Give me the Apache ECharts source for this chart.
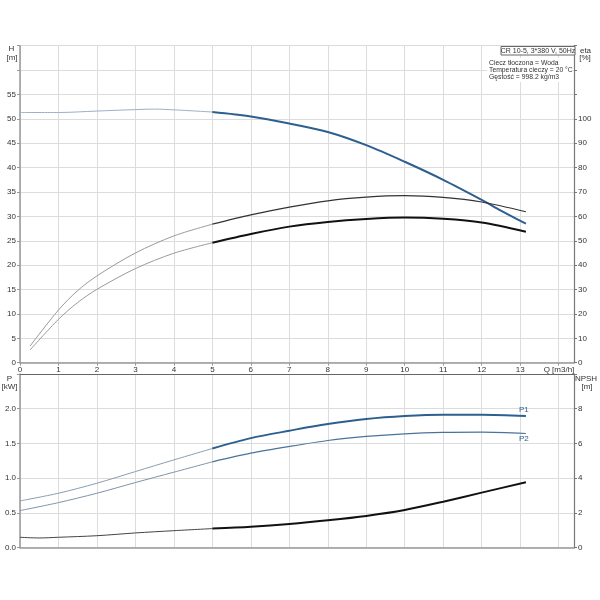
<!DOCTYPE html>
<html>
<head>
<meta charset="utf-8">
<script src="https://cdn.jsdelivr.net/npm/echarts@6/dist/echarts.min.js"></script>
<style>html,body{margin:0;padding:0;background:#fff}#c{width:600px;height:600px}</style>
</head>
<body>
<div id="c"></div>
<script>
// Head curve H [m]
const qH = [0, 1, 2, 3, 3.5, 4, 5, 6, 7, 8, 9, 10, 11, 12, 12.5, 13.15];
const hVals = [51.3, 51.3, 51.6, 51.9, 52.0, 51.85, 51.4, 50.5, 49.05, 47.3, 44.6, 41.2, 37.5, 33.4, 31.2, 28.5];
// Efficiency curves eta [%]
const qEta = [0.26, 1, 1.5, 2, 3, 4, 5, 6, 7, 8, 9, 10, 11, 12, 13.15];
const etaUpper = [6.8, 21.6, 29.6, 35.6, 45.0, 52.0, 56.8, 60.6, 63.8, 66.4, 67.9, 68.5, 67.8, 65.9, 61.9];
const etaLower = [5.2, 17.8, 24.7, 30.1, 38.6, 44.9, 49.2, 52.8, 55.8, 57.7, 58.9, 59.5, 59.0, 57.5, 53.7];
// Power curves P [kW]
const qP = [0, 1, 2, 3, 4, 5, 6, 7, 8, 9, 10, 11, 12, 13.15];
const p1Vals = [0.673, 0.784, 0.928, 1.096, 1.264, 1.428, 1.577, 1.683, 1.779, 1.851, 1.894, 1.913, 1.913, 1.894];
const p2Vals = [0.534, 0.649, 0.784, 0.938, 1.087, 1.236, 1.36, 1.457, 1.543, 1.601, 1.639, 1.659, 1.663, 1.644];
// NPSH [m]
const qN = [0, 0.5, 1, 2, 3, 4, 5, 6, 7, 8, 9, 10, 11, 12, 13.15];
const npshVals = [0.6, 0.56, 0.6, 0.69, 0.85, 0.98, 1.1, 1.21, 1.37, 1.58, 1.83, 2.17, 2.65, 3.17, 3.77];
// Ticks / texts
const qTickLabels = [0,1,2,3,4,5,6,7,8,9,10,11,12,13];
const infoTitle = 'CR 10-5, 3*380 V, 50Hz';
const infoLines = ['Ciecz tłoczona = Woda', 'Temperatura cieczy = 20 °C', 'Gęstość = 998.2 kg/m3'];
const opStart = 5;

const FONT = '"Liberation Sans", Arial, sans-serif';
const pairs = (q, v) => q.map((x, i) => [x, v[i]]);
const thin = (q, v) => pairs(q, v).filter(p => p[0] <= opStart);
const thick = (q, v) => pairs(q, v).filter(p => p[0] >= opStart);

function line(name, data, xi, yi, color, width, z, endLabel) {
  const s = { name, type: 'line', xAxisIndex: xi, yAxisIndex: yi, data, showSymbol: false, symbol: 'none',
    smooth: 0.3, silent: true, z: z || 2,
    lineStyle: { color, width } };
  if (endLabel) s.endLabel = endLabel;
  return s;
}
const endLab = (text, offset) => ({ show: true, formatter: text, color: '#2d5f8f', fontSize: 8,
  fontFamily: FONT, distance: 0, align: 'center', verticalAlign: 'middle', offset });

const axisLab = { fontSize: 8, color: '#333', fontFamily: FONT };
const gridLine = { show: true, lineStyle: { color: '#dcdcdc', width: 1 } };

const chart = echarts.init(document.getElementById('c'));
chart.setOption({
  animation: false,
  backgroundColor: '#fff',
  grid: [
    { left: 20, right: 26, top: 45.7, height: 317 },
    { left: 20, right: 26, top: 374, height: 173.7 }
  ],
  xAxis: [
    { type: 'value', gridIndex: 0, min: 0, max: 14.4, interval: 1,
      axisLine: { show: true, onZero: false, lineStyle: { color: '#999', width: 1.5 } },
      axisTick: { show: true, length: 3, lineStyle: { color: '#999' } },
      axisLabel: Object.assign({ margin: 3, showMaxLabel: false,
        formatter: v => qTickLabels.indexOf(v) >= 0 ? String(v) : '' }, axisLab),
      splitLine: gridLine },
    { type: 'value', gridIndex: 1, min: 0, max: 14.4, interval: 1,
      axisLine: { show: true, onZero: false, lineStyle: { color: '#999', width: 1.5 } },
      axisTick: { show: false }, axisLabel: { show: false }, splitLine: gridLine },
    { type: 'value', gridIndex: 1, position: 'top', min: 0, max: 14.4, interval: 1,
      axisLine: { show: true, onZero: false, lineStyle: { color: '#666', width: 1.2 } },
      axisTick: { show: false }, axisLabel: { show: false }, splitLine: { show: false } }
  ],
  yAxis: [
    { type: 'value', gridIndex: 0, position: 'left', min: 0, max: 65, interval: 5,
      axisLine: { show: true, onZero: false, lineStyle: { color: '#999', width: 1.5 } },
      axisTick: { show: true, length: 3, lineStyle: { color: '#999' } },
      axisLabel: Object.assign({ margin: 4, formatter: v => v <= 55 ? String(v) : '' }, axisLab),
      splitLine: gridLine },
    { type: 'value', gridIndex: 0, position: 'right', min: 0, max: 130, interval: 10,
      axisLine: { show: true, onZero: false, lineStyle: { color: '#777', width: 1.2 } },
      axisTick: { show: true, length: 3, lineStyle: { color: '#777' } },
      axisLabel: Object.assign({ margin: 4, formatter: v => v <= 100 ? String(v) : '' }, axisLab),
      splitLine: { show: false } },
    { type: 'value', gridIndex: 1, position: 'left', min: 0, max: 2.5, interval: 0.5,
      axisLine: { show: true, onZero: false, lineStyle: { color: '#999', width: 1.5 } },
      axisTick: { show: true, length: 3, lineStyle: { color: '#999' } },
      axisLabel: Object.assign({ margin: 4, formatter: v => v <= 2 ? v.toFixed(1) : '' }, axisLab),
      splitLine: gridLine },
    { type: 'value', gridIndex: 1, position: 'right', min: 0, max: 10, interval: 2,
      axisLine: { show: true, onZero: false, lineStyle: { color: '#777', width: 1.2 } },
      axisTick: { show: true, length: 3, lineStyle: { color: '#777' } },
      axisLabel: Object.assign({ margin: 4, formatter: v => v <= 8 ? String(v) : '' }, axisLab),
      splitLine: { show: false } }
  ],
  series: [
    line('H_thin', thin(qH, hVals), 0, 0, '#9bb0c6', 1),
    line('H', thick(qH, hVals), 0, 0, '#2d5f8f', 2, 3),
    line('eta1_thin', thin(qEta, etaUpper), 0, 1, '#9a9a9a', 1),
    line('eta1', thick(qEta, etaUpper), 0, 1, '#333', 1.2, 3),
    line('eta2_thin', thin(qEta, etaLower), 0, 1, '#9a9a9a', 1),
    line('eta2', thick(qEta, etaLower), 0, 1, '#111', 2, 3),
    line('P1_thin', thin(qP, p1Vals), 1, 2, '#8a9db3', 1),
    line('P1', thick(qP, p1Vals), 1, 2, '#2d5f8f', 2, 3, endLab('P1', [-2, -6])),
    line('P2_thin', thin(qP, p2Vals), 1, 2, '#7f93aa', 1),
    line('P2', thick(qP, p2Vals), 1, 2, '#4a739c', 1.2, 3, endLab('P2', [-2, 5])),
    line('NPSH_thin', thin(qN, npshVals), 1, 3, '#444', 1),
    line('NPSH', thick(qN, npshVals), 1, 3, '#111', 2, 3)
  ],
  graphic: [
    { type: 'text', z: 10, style: { text: 'H', x: 11.5, y: 49, align: 'center', verticalAlign: 'middle', font: '8px ' + FONT, fill: '#333' } },
    { type: 'text', z: 10, style: { text: '[m]', x: 12, y: 58, align: 'center', verticalAlign: 'middle', font: '8px ' + FONT, fill: '#333' } },
    { type: 'text', z: 10, style: { text: 'eta', x: 585.5, y: 50.5, align: 'center', verticalAlign: 'middle', font: '8px ' + FONT, fill: '#333' } },
    { type: 'text', z: 10, style: { text: '[%]', x: 585, y: 58, align: 'center', verticalAlign: 'middle', font: '8px ' + FONT, fill: '#333' } },
    { type: 'text', z: 10, style: { text: 'P', x: 9.5, y: 378.5, align: 'center', verticalAlign: 'middle', font: '8px ' + FONT, fill: '#333' } },
    { type: 'text', z: 10, style: { text: '[kW]', x: 9.5, y: 386.5, align: 'center', verticalAlign: 'middle', font: '8px ' + FONT, fill: '#333' } },
    { type: 'text', z: 10, style: { text: 'NPSH', x: 586, y: 378.5, align: 'center', verticalAlign: 'middle', font: '8px ' + FONT, fill: '#333' } },
    { type: 'text', z: 10, style: { text: '[m]', x: 587, y: 386.5, align: 'center', verticalAlign: 'middle', font: '8px ' + FONT, fill: '#333' } },
    { type: 'text', z: 10, style: { text: 'Q [m3/h]', x: 559, y: 369.5, align: 'center', verticalAlign: 'middle', font: '8px ' + FONT, fill: '#333' } },
    { type: 'rect', z: 9, shape: { x: 487, y: 58, width: 86, height: 24 }, style: { fill: '#fff' } },
    { type: 'rect', z: 10, shape: { x: 501, y: 46.5, width: 74, height: 8.5 }, style: { fill: '#fff', stroke: '#666', lineWidth: 1 } },
    { type: 'text', z: 11, style: { text: infoTitle, x: 538, y: 50.8, align: 'center', verticalAlign: 'middle', font: '7px ' + FONT, fill: '#333' } },
    { type: 'text', z: 11, style: { text: infoLines[0], x: 489, y: 63.5, align: 'left', verticalAlign: 'middle', font: '6.8px ' + FONT, fill: '#333' } },
    { type: 'text', z: 11, style: { text: infoLines[1], x: 489, y: 70.5, align: 'left', verticalAlign: 'middle', font: '6.8px ' + FONT, fill: '#333' } },
    { type: 'text', z: 11, style: { text: infoLines[2], x: 489, y: 77.5, align: 'left', verticalAlign: 'middle', font: '6.8px ' + FONT, fill: '#333' } }
  ]
});
</script>
</body>
</html>
